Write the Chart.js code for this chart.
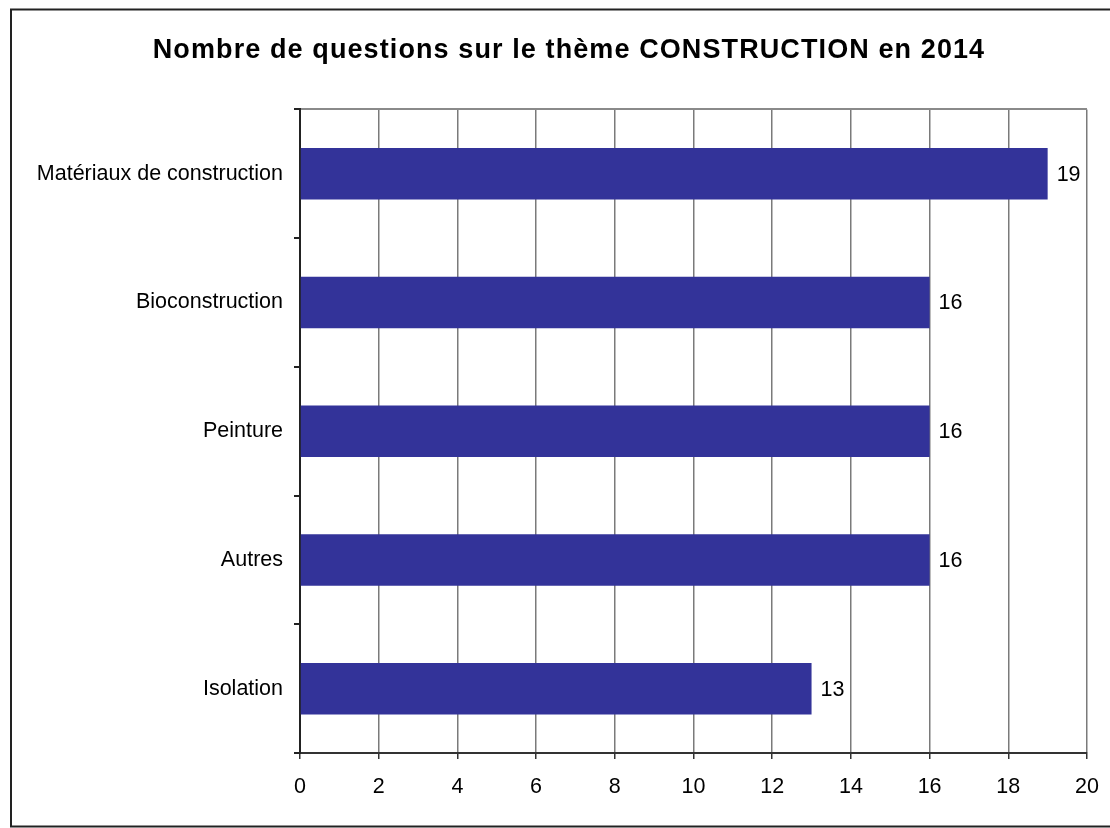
<!DOCTYPE html>
<html>
<head>
<meta charset="utf-8">
<script src="https://cdn.jsdelivr.net/npm/chart.js@4.4.1/dist/chart.umd.min.js"></script>
<style>
html,body{margin:0;padding:0;background:#fff;}
#wrap{position:relative;width:1110px;height:828px;}
</style>
</head>
<body>
<div id="wrap"><canvas id="c" width="1110" height="828"></canvas></div>
<script>
const chartTitle = 'Nombre de questions sur le thème CONSTRUCTION en 2014';
const categories = ['Matériaux de construction', 'Bioconstruction', 'Peinture', 'Autres', 'Isolation'];
const questionCounts = [19, 16, 16, 16, 13];
const xTickValues = [0, 2, 4, 6, 8, 10, 12, 14, 16, 18, 20];

const FONT = '"Liberation Sans", Arial, sans-serif';

const framePlugin = {
  id: 'frame',
  afterInit(chart) {
    const tb = chart.titleBlock;
    if (tb && !tb._wrapped) {
      const orig = tb.draw.bind(tb);
      tb.draw = function () {
        const ctx = chart.ctx;
        const prev = ctx.letterSpacing;
        if ('letterSpacing' in ctx) ctx.letterSpacing = '1.1px';
        orig();
        if ('letterSpacing' in ctx) ctx.letterSpacing = prev || '0px';
      };
      tb._wrapped = true;
    }
  },
  beforeDraw(chart) {
    const ctx = chart.ctx;
    ctx.save();
    ctx.fillStyle = '#fff';
    ctx.fillRect(0, 0, chart.width, chart.height);
    ctx.strokeStyle = '#222';
    ctx.lineWidth = 2;
    ctx.strokeRect(11, 9.5, 1120, 817);
    ctx.restore();
  }
};

const valueLabels = {
  id: 'valueLabels',
  afterDatasetsDraw(chart) {
    const ctx = chart.ctx;
    const meta = chart.getDatasetMeta(0);
    ctx.save();
    ctx.font = '21.5px ' + FONT;
    ctx.fillStyle = '#000';
    ctx.textAlign = 'left';
    ctx.textBaseline = 'middle';
    meta.data.forEach((bar, i) => {
      ctx.fillText(String(chart.data.datasets[0].data[i]), bar.x + 9, bar.y + 1);
    });
    ctx.restore();
  }
};

new Chart(document.getElementById('c'), {
  type: 'bar',
  data: {
    labels: categories,
    datasets: [{
      data: questionCounts,
      backgroundColor: '#333399',
      borderWidth: 0,
      barPercentage: 0.4,
      categoryPercentage: 1
    }]
  },
  options: {
    indexAxis: 'y',
    responsive: false,
    animation: false,
    devicePixelRatio: 1,
    layout: { padding: { left: 28, right: 0, top: 0, bottom: 0 } },
    plugins: {
      legend: { display: false },
      tooltip: { enabled: false },
      title: {
        display: true,
        text: chartTitle,
        color: '#000',
        font: { family: FONT, size: 27, weight: 'bold' },
        padding: { top: 34, bottom: 43 }
      }
    },
    scales: {
      x: {
        type: 'linear',
        min: 0,
        max: 20,
        afterBuildTicks(scale) { scale.ticks = xTickValues.map(v => ({ value: v })); },
        afterFit(scale) { scale.height = 75; scale.paddingRight = 23; },
        ticks: {
          color: '#000',
          font: { family: FONT, size: 21.5 },
          padding: 15,
          maxRotation: 0
        },
        grid: {
          color: '#7a7a7a',
          lineWidth: 1.5,
          tickColor: '#333',
          tickLength: 6
        },
        border: { color: '#333', width: 2 }
      },
      y: {
        type: 'category',
        afterFit(scale) { scale.width = 272; },
        ticks: {
          color: '#000',
          font: { family: FONT, size: 21.5 },
          padding: 11
        },
        grid: {
          offset: true,
          color: (c) => c.index === 0 ? '#8a8a8a' : 'rgba(0,0,0,0)',
          lineWidth: 2,
          tickColor: '#222',
          tickLength: 6
        },
        border: { color: '#222', width: 2 }
      }
    }
  },
  plugins: [framePlugin, valueLabels]
});
</script>
</body>
</html>
